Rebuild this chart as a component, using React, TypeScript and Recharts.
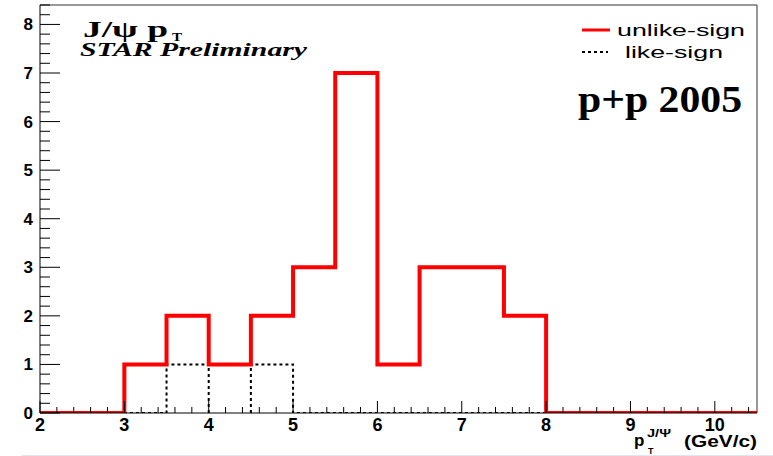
import React from 'react';
import { ComposedChart, Line, XAxis, YAxis, ReferenceLine } from 'recharts';

// histogram bins (lower edges, 0.5 GeV/c wide)
const binLow = [2, 2.5, 3, 3.5, 4, 4.5, 5, 5.5, 6, 6.5, 7, 7.5, 8, 8.5, 9, 9.5, 10];
const binWidth = 0.5;
const unlikeSign = [0, 0, 1, 2, 1, 2, 3, 7, 1, 3, 3, 2, 0, 0, 0, 0, 0];
const likeSign = [0, 0, 0, 1, 1, 1, 0, 0, 0, 0, 0, 0, 0, 0, 0, 0, 0];

const xMajorTicks = [2, 3, 4, 5, 6, 7, 8, 9, 10];
const yMajorTicks = [0, 1, 2, 3, 4, 5, 6, 7, 8];
const xDomain = [2, 10.5];
const yDomain = [0, 8.4];

// minor tick positions every 0.2, just for the ROOT-style axes
const minorTicks = (lo: number, hi: number) => {
  const out: number[] = [];
  for (let v = lo; v <= hi + 1e-9; v += 0.2) out.push(Math.round(v * 10) / 10);
  return out;
};
const xTicks = minorTicks(2, 10.4);
const yTicks = minorTicks(0, 8.4);

const isMajor = (v: number, majors: number[]) => majors.some((m) => Math.abs(m - v) < 1e-6);

// step data: one point per lower edge, plus the closing edge
const table = binLow.map((x, i) => ({ x, unlike: unlikeSign[i], like: likeSign[i] }));
table.push({
  x: binLow[binLow.length - 1] + binWidth,
  unlike: unlikeSign[unlikeSign.length - 1],
  like: likeSign[likeSign.length - 1],
});

// inner bin walls of the like-sign histogram (ROOT draws them)
const likeWalls = binLow
  .map((x, i) => ({ x, h: i > 0 ? Math.min(likeSign[i - 1], likeSign[i]) : 0 }))
  .filter((w) => w.h > 0);

const sans = '"Liberation Sans", Arial, sans-serif';
const serif = '"Liberation Serif", "Times New Roman", serif';

const XTick = (props: any) => {
  const { x, y, payload } = props;
  const major = isMajor(payload.value, xMajorTicks);
  return (
    <g>
      <line x1={x} x2={x} y1={y} y2={y - (major ? 12 : 6)} stroke="#000" strokeWidth={1} />
      {major && (
        <text x={x} y={y + 18} textAnchor="middle" fontFamily={sans} fontWeight={700} fontSize={18} fill="#000">
          {payload.value}
        </text>
      )}
    </g>
  );
};

const YTick = (props: any) => {
  const { x, y, payload } = props;
  const major = isMajor(payload.value, yMajorTicks);
  return (
    <g>
      <line x1={x} x2={x + (major ? 20 : 10)} y1={y} y2={y} stroke="#000" strokeWidth={1} />
      {major && (
        <text x={x - 7} y={y + 6} textAnchor="end" fontFamily={sans} fontWeight={700} fontSize={17} fill="#000">
          {payload.value}
        </text>
      )}
    </g>
  );
};

export default function App() {
  return (
    <div style={{ position: 'absolute', left: 0, top: 0, width: 773, height: 456, background: '#fff' }}>
      <ComposedChart width={773} height={456} data={table} margin={{ top: 5, right: 16, bottom: 0, left: 0 }}>
        <XAxis
          dataKey="x"
          type="number"
          domain={xDomain}
          ticks={xTicks}
          interval={0}
          height={43}
          tickSize={0}
          tickMargin={0}
          tickLine={false}
          axisLine={{ stroke: '#000', strokeWidth: 1 }}
          tick={(p: any) => <XTick {...p} />}
          allowDataOverflow
        />
        <YAxis
          type="number"
          domain={yDomain}
          ticks={yTicks}
          interval={0}
          width={40}
          tickSize={0}
          tickMargin={0}
          tickLine={false}
          axisLine={{ stroke: '#000', strokeWidth: 1 }}
          tick={(p: any) => <YTick {...p} />}
          allowDataOverflow
        />
        <ReferenceLine y={yDomain[1]} stroke="#333" strokeWidth={1} />
        <ReferenceLine x={xDomain[1]} stroke="#333" strokeWidth={1} />
        {likeWalls.map((w) => (
          <ReferenceLine
            key={w.x}
            segment={[{ x: w.x, y: 0 }, { x: w.x, y: w.h }]}
            stroke="#000"
            strokeWidth={2}
            strokeDasharray="3 3"
          />
        ))}
        <Line
          type="stepAfter"
          dataKey="like"
          stroke="#000"
          strokeWidth={2}
          strokeDasharray="3 3"
          dot={false}
          activeDot={false}
          isAnimationActive={false}
        />
        <Line
          type="stepAfter"
          dataKey="unlike"
          stroke="#ff0000"
          strokeWidth={4}
          dot={false}
          activeDot={false}
          isAnimationActive={false}
        />
      </ComposedChart>
      <svg width={773} height={456} style={{ position: 'absolute', left: 0, top: 0, pointerEvents: 'none' }}>
        <text x={83} y={37} fontFamily={serif} fontWeight={700} fontSize={23} textLength={85} lengthAdjust="spacingAndGlyphs">
          J/ψ p
        </text>
        <text x={172} y={41} fontFamily={serif} fontWeight={700} fontSize={13} textLength={10} lengthAdjust="spacingAndGlyphs">
          T
        </text>
        <text x={80} y={56} fontFamily={serif} fontWeight={700} fontStyle="italic" fontSize={18} textLength={227} lengthAdjust="spacingAndGlyphs">
          STAR Preliminary
        </text>

        <line x1={582} x2={610} y1={30} y2={30} stroke="#ff0000" strokeWidth={3} />
        <text x={617} y={36} fontFamily={sans} fontSize={17} textLength={128} lengthAdjust="spacingAndGlyphs">
          unlike-sign
        </text>
        <line x1={582} x2={608} y1={52} y2={52} stroke="#000" strokeWidth={2} strokeDasharray="3 3" />
        <text x={625} y={58} fontFamily={sans} fontSize={17} textLength={98} lengthAdjust="spacingAndGlyphs">
          like-sign
        </text>

        <text x={578} y={112} fontFamily={serif} fontWeight={700} fontSize={38} textLength={164} lengthAdjust="spacingAndGlyphs">
          p+p 2005
        </text>

        <text x={634} y={446} fontFamily={sans} fontWeight={700} fontSize={17}>
          p
        </text>
        <text x={647} y={437} fontFamily={sans} fontWeight={700} fontSize={10} textLength={24} lengthAdjust="spacingAndGlyphs">
          J/Ψ
        </text>
        <text x={648} y={454} fontFamily={sans} fontWeight={700} fontSize={9}>
          T
        </text>
        <text x={684} y={447} fontFamily={sans} fontWeight={700} fontSize={16} textLength={73} lengthAdjust="spacingAndGlyphs">
          (GeV/c)
        </text>
        <line x1={22} x2={773} y1={455.5} y2={455.5} stroke="#e6e2f2" strokeWidth={1} />
      </svg>
    </div>
  );
}
